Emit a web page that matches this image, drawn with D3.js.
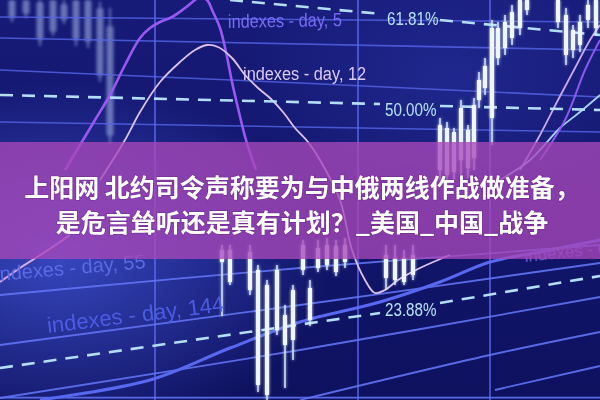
<!DOCTYPE html>
<html><head><meta charset="utf-8">
<script src="https://cdn.jsdelivr.net/npm/d3@7"></script>
<style>html,body{margin:0;padding:0;background:#10136a;overflow:hidden}</style>
</head><body><svg id="c" width="600" height="400"></svg>
<script>
// ---------- data ----------
const titleLines = ["上阳网 北约司令声称要为与中俄两线作战做准备，", "是危言耸听还是真有计划？_美国_中国_战争"];

// faded (blurred) candles, top-left
const fadedDay   = [2.4, 5.2, 8, 10.6, 12.8, 15.2, 17.6, 20, 22];
const fadedHigh  = [100, 100, 100, 100, 100, 100, 100, 99.5, 98];
const fadedOpen  = [100, 100, 99.5, 100, 99, 100, 100, 98, 93.5];
const fadedClose = [95.5, 96.5, 90, 92, 95, 90, 89.5, 81, 66];
const fadedLow   = [94.5, 95.5, 88.5, 91, 94, 88.5, 88, 79.5, 64];

// bright candles
const candleDay   = [44.4, 46, 50, 51.6, 53.4, 55.4, 57, 58.6, 60.6, 62, 63.6, 65.4, 67.2, 69, 77.2, 79, 80.8, 82.6,
                     88, 89.4, 90.8, 92.2, 93.6, 94.8, 95.8, 97, 98.4, 99.6, 101, 102.4, 104, 105.4, 111.6, 113.2, 114.6, 116, 117.6, 119.2];
const candleHigh  = [38.75, 38.75, 38.75, 33.75, 30, 33.75, 23.75, 28.75, 40, 30, 40, 40.5, 40, 40.5, 38.75, 38.75, 37.5, 38.75,
                     70.5, 69.5, 68, 75, 68.75, 75.5, 82, 85.5, 95, 94.5, 96.25, 98.75, 100, 100, 100, 98, 93.75, 96.25, 100, 100];
const candleOpen  = [37.5, 37.5, 37, 32.5, 28.75, 32.5, 21.25, 27.5, 38.75, 28, 38, 38.75, 38.5, 38.75, 36.25, 35.5, 35.5, 36.25,
                     68.75, 68, 67, 73, 67.5, 73.75, 80, 83.5, 93, 93, 94.5, 97, 100, 100, 100, 96.25, 92.5, 94.5, 98.75, 100];
const candleClose = [34.5, 29.5, 27.5, 3.75, 1.25, 17.5, 13.75, 15, 32.5, 20, 33, 33.75, 32, 34.5, 30.5, 30, 29.5, 31.25,
                     57.5, 56.25, 57, 60, 58, 60.5, 75, 78, 70.5, 85.5, 88, 90.5, 93, 97.5, 94.5, 86.25, 87.5, 88.75, 95, 93];
const candleLow   = [21, 28.75, 26.25, 2, 0, 16.25, 3, 10, 31.25, 18.5, 32, 32.5, 31, 33, 27.5, 28.75, 28.75, 30,
                     55, 53.75, 55, 56.25, 55.5, 57.5, 73, 76.25, 63.75, 83.75, 86.25, 88.75, 91.25, 96.25, 93, 83.75, 85.5, 87, 93, 91.25];

// grid
const verticalDays = [31, 71.6, 98];
const gridTop = [
  [[0, 95.75], [120, 94.5]],
  [[0, 90.5], [120, 87.5]],
  [[0, 82.5], [60, 79.25], [120, 75.75]],
  [[0, 69.5], [120, 67]]
];
const gridBottom = [
  [[0, 26.25], [60, 33], [120, 38.75]],
  [[0, 13.75], [60, 23.75], [120, 34.25]],
  [[0, 0.5], [60, 12.5], [120, 25.75]],
  [[60, 0], [98, 11.25], [120, 17]],
  [[99, 2.5], [120, 8.5]],
  [[0, 0.6], [120, 0.6]]
];
const thickBlue = [[8, 0], [30, 5], [46, 13], [60, 19.5], [76, 24.5], [88, 29.5], [98, 34.5], [108, 37], [120, 40]];

// index curves
const curveDay5 = [[13, 57.5], [16.6, 65], [19, 70], [22, 76.25], [25, 83.75], [28, 90.5], [30, 93], [32, 94.5], [34.4, 95.75],
                   [37, 98], [39, 100], [40, 100.75], [41.4, 100], [42.6, 97], [44, 93], [45.2, 87], [46.4, 79.5], [47.6, 73], [49.2, 65], [51.2, 57.5]];
const curveDay12 = [[20, 55], [25, 65], [28, 72], [32, 79.5], [36, 84.5], [39, 87.5], [41.4, 88.75], [43.6, 88.25], [46.4, 85.5],
                    [49, 81.25], [51.6, 78], [54, 75.5], [56.6, 72], [59, 68], [61.6, 64.5], [64, 60], [68, 50], [70.4, 37.5],
                    [73, 30], [75, 26.75], [77, 27.5], [79.6, 30], [84, 33], [90, 36.25]];
const curveLeftPink = [[0, 29.5], [4, 33], [9, 37], [14, 41.25]];
const curveRightLilac = [[104, 57.5], [108, 66.25], [111.6, 75], [115, 83], [118, 90], [120, 93.75]];
const curveRightBlue = [[100, 55], [106, 60], [112, 68], [116, 72], [120, 76.25]];
const curveRightViolet = [[108, 60], [113, 70], [117, 82.5], [120, 90]];

// fibonacci levels
const fibLabels = ["61.81%", "50.00%", "23.88%"];
const fibLeft  = [[[46, 100], [76.4, 96.5]], [[0, 76.25], [76, 74]], [[0, 8], [76, 21.75]]];
const fibRight = [[[88, 95], [120, 91.25]], [[88, 73.5], [120, 72.5]], [[88, 24.25], [120, 31]]];
const fibLabelPos = [[77.4, 93.75], [77, 71], [77, 21]];

// index labels
const indexLabels = ["indexes - day, 5", "indexes - day, 12", "indexes - day, 55", "indexes - day, 144", "indexes - day, 233"];
const indexLabelPos = [[45.6, 93], [48.6, 80], [29.2, 33], [9.6, 16.75], [105, 34.5]];

// ---------- drawing ----------
const W = 600, H = 400;
const svg = d3.select("#c");
const x = d3.scaleLinear().domain([0, 120]).range([0, W]);
const y = d3.scaleLinear().domain([0, 100]).range([H, 0]);
const line = d3.line().x(d => x(d[0])).y(d => y(d[1])).curve(d3.curveCatmullRom.alpha(0.5));
const straight = d3.line().x(d => x(d[0])).y(d => y(d[1]));

const defs = svg.append("defs");
const bg = defs.append("linearGradient").attr("id", "bg").attr("x1", 0).attr("y1", 0).attr("x2", 0).attr("y2", 1);
bg.append("stop").attr("offset", "0%").attr("stop-color", "#171b78");
bg.append("stop").attr("offset", "55%").attr("stop-color", "#12166c");
bg.append("stop").attr("offset", "100%").attr("stop-color", "#0e115e");
const glow = defs.append("radialGradient").attr("id", "glow").attr("cx", 0.1).attr("cy", 0.65).attr("r", 0.45);
glow.append("stop").attr("offset", "0%").attr("stop-color", "#4256d8").attr("stop-opacity", 0.75);
glow.append("stop").attr("offset", "100%").attr("stop-color", "#4256d8").attr("stop-opacity", 0);
const glow2 = defs.append("radialGradient").attr("id", "glow2").attr("cx", 0.75).attr("cy", 0.2).attr("r", 0.35);
glow2.append("stop").attr("offset", "0%").attr("stop-color", "#2a36a8").attr("stop-opacity", 0.5);
glow2.append("stop").attr("offset", "100%").attr("stop-color", "#2a36a8").attr("stop-opacity", 0);

const fSoft = defs.append("filter").attr("id", "soft").attr("x", "-10%").attr("y", "-10%").attr("width", "120%").attr("height", "120%");
fSoft.append("feGaussianBlur").attr("stdDeviation", 0.6);
const fBlur = defs.append("filter").attr("id", "blur");
fBlur.append("feGaussianBlur").attr("stdDeviation", 1.8);
const fGlow = defs.append("filter").attr("id", "glowf").attr("x", "-50%").attr("y", "-10%").attr("width", "200%").attr("height", "120%");
fGlow.append("feGaussianBlur").attr("in", "SourceGraphic").attr("stdDeviation", 1.6).attr("result", "b");
const m = fGlow.append("feMerge");
m.append("feMergeNode").attr("in", "b");
m.append("feMergeNode").attr("in", "SourceGraphic");

svg.append("rect").attr("width", W).attr("height", H).attr("fill", "url(#bg)");
svg.append("rect").attr("width", W).attr("height", H).attr("fill", "url(#glow)");
svg.append("rect").attr("width", W).attr("height", H).attr("fill", "url(#glow2)");

// faded candles
const fg = svg.append("g").attr("filter", "url(#blur)").attr("opacity", 0.55);
fadedDay.forEach((d, i) => {
  fg.append("line").attr("x1", x(d)).attr("x2", x(d)).attr("y1", y(fadedHigh[i])).attr("y2", y(fadedLow[i]))
    .attr("stroke", "#a8bce8").attr("stroke-width", 2);
  fg.append("rect").attr("x", x(d) - 3.5).attr("width", 7).attr("y", y(fadedOpen[i])).attr("height", y(fadedClose[i]) - y(fadedOpen[i]))
    .attr("fill", "#a8bce8").attr("rx", 2);
});

const g = svg.append("g").attr("filter", "url(#soft)");
verticalDays.forEach(d => {
  g.append("line").attr("x1", x(d)).attr("x2", x(d)).attr("y1", 0).attr("y2", H)
    .attr("stroke", "#5d6ef2").attr("stroke-width", 1.6).attr("opacity", 0.85);
});
gridTop.forEach(l => g.append("path").attr("d", straight(l)).attr("fill", "none").attr("stroke", "#5566ea").attr("stroke-width", 1.6).attr("opacity", 0.8));
gridBottom.forEach(l => g.append("path").attr("d", line(l)).attr("fill", "none").attr("stroke", "#6373f4").attr("stroke-width", 1.8).attr("opacity", 0.9));
g.append("path").attr("d", line(thickBlue)).attr("fill", "none").attr("stroke", "#5868f0").attr("stroke-width", 3);

g.append("path").attr("d", line(curveDay5)).attr("fill", "none").attr("stroke", "#9a58f2").attr("stroke-width", 2.6);
g.append("path").attr("d", line(curveDay12)).attr("fill", "none").attr("stroke", "#dcc2f6").attr("stroke-width", 1.8);
g.append("path").attr("d", line(curveLeftPink)).attr("fill", "none").attr("stroke", "#d9a8f0").attr("stroke-width", 2);
g.append("path").attr("d", line(curveRightLilac)).attr("fill", "none").attr("stroke", "#c8a8f6").attr("stroke-width", 1.8);
g.append("path").attr("d", line(curveRightBlue)).attr("fill", "none").attr("stroke", "#a8d0ff").attr("stroke-width", 1.8);
g.append("path").attr("d", line(curveRightViolet)).attr("fill", "none").attr("stroke", "#8a58f0").attr("stroke-width", 2);

[fibLeft, fibRight].forEach(set => set.forEach(l => {
  g.append("path").attr("d", straight(l)).attr("fill", "none").attr("stroke", "#b4def8")
    .attr("stroke-width", 2.6).attr("stroke-dasharray", "13 9");
}));

const cg = svg.append("g").attr("filter", "url(#glowf)");
candleDay.forEach((d, i) => {
  cg.append("line").attr("x1", x(d)).attr("x2", x(d)).attr("y1", y(candleHigh[i])).attr("y2", y(candleLow[i]))
    .attr("stroke", "#dceeff").attr("stroke-width", 1.4);
  cg.append("rect").attr("x", x(d) - 2).attr("width", 4).attr("y", y(candleOpen[i])).attr("height", y(candleClose[i]) - y(candleOpen[i]))
    .attr("fill", "#eef6ff");
});

// labels
const tg = svg.append("g").attr("filter", "url(#soft)").attr("font-family", "'Liberation Sans', Arial, sans-serif");
fibLabels.forEach((t, i) => {
  tg.append("text").attr("transform", `translate(${x(fibLabelPos[i][0])},${y(fibLabelPos[i][1])}) scale(0.8,1)`).text(t)
    .attr("font-size", 19).attr("fill", "#b8e2fa");
});
const idxStyle = [
  {size: 19, sx: 0.86, color: "#7a6cf2", rot: -1, anchor: "start"},
  {size: 19, sx: 0.86, color: "#dccaf8", rot: 0, anchor: "start"},
  {size: 20, sx: 1, color: "#5c6ae4", rot: -5, anchor: "end"},
  {size: 22, sx: 1, color: "#4c5ce2", rot: -7, anchor: "start"},
  {size: 17, sx: 1, color: "#6e5ee8", rot: -6, anchor: "start"}
];
indexLabels.forEach((t, i) => {
  const px = x(indexLabelPos[i][0]), py = y(indexLabelPos[i][1]);
  tg.append("text").attr("transform", `translate(${px},${py}) rotate(${idxStyle[i].rot}) scale(${idxStyle[i].sx},1)`)
    .attr("text-anchor", idxStyle[i].anchor).attr("font-size", idxStyle[i].size).attr("fill", idxStyle[i].color).text(t);
});

// banner
svg.append("rect").attr("x", 0).attr("y", 142).attr("width", W).attr("height", 117)
  .attr("fill", "#a848b8").attr("opacity", 0.78);

// title
const tt = svg.append("g").attr("font-family", "'Noto Sans CJK SC', 'Noto Sans', sans-serif")
  .attr("font-weight", 700).attr("font-size", 25).attr("fill", "#ffffff").attr("text-anchor", "middle");
titleLines.forEach((t, i) => {
  tt.append("text").attr("x", 302).attr("y", 197 + i * 35).text(t)
    .style("paint-order", "stroke").attr("stroke", "rgba(90,20,110,0.35)").attr("stroke-width", 1.5);
});
</script></body></html>
